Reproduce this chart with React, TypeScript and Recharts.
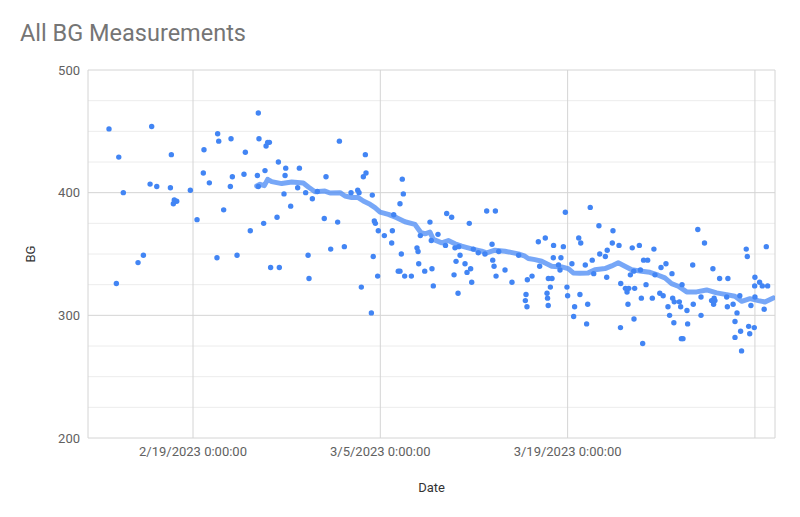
import React from 'react';
import { ScatterChart, Scatter, XAxis, YAxis, CartesianGrid, Label } from 'recharts';

// x values are days since 2/19/2023 0:00:00
const dateTickValues = [0, 14, 28, 42];
const dateTickLabels = ['2/19/2023 0:00:00', '3/5/2023 0:00:00', '3/19/2023 0:00:00', ''];
const bgTicks = [200, 300, 400, 500];
const bgMinorTicks = [225, 250, 275, 325, 350, 375, 425, 450, 475];

const measurements: [number, number][] = [
  [-6.28, 452], [-3.09, 454], [-5.55, 429], [-1.62, 431], [0.82, 435], [0.77, 416], [1.22, 408], [-3.21, 407],
  [-2.71, 405], [-1.69, 404], [-0.2, 402], [-5.21, 400], [-1.4, 394], [-1.22, 393], [-1.47, 391], [0.3, 378],
  [-3.71, 349], [-4.11, 343], [-5.73, 326],
  [4.88, 465], [1.84, 448], [1.92, 442], [2.84, 444], [4.93, 444], [5.58, 441], [5.71, 441], [5.46, 438],
  [3.91, 433], [6.38, 425], [6.93, 420], [7.95, 420], [5.38, 418], [3.81, 415], [2.94, 413], [4.81, 414],
  [6.88, 414], [2.79, 405], [4.88, 405], [7.82, 404], [8.42, 400], [6.8, 399], [8.92, 395], [7.3, 389],
  [2.29, 386], [6.28, 380], [5.28, 375], [4.28, 369], [1.79, 347], [3.29, 349], [8.6, 349], [5.8, 339],
  [6.45, 339], [8.67, 330],
  [10.94, 442], [12.88, 431], [9.94, 413], [12.73, 413], [12.93, 416], [15.64, 411], [15.72, 399], [9.29, 401],
  [11.81, 400], [12.31, 402], [12.41, 400], [13.4, 398], [15.47, 391], [9.81, 379], [10.81, 376], [15.0, 382],
  [13.55, 377], [13.63, 375], [13.85, 369], [14.9, 369], [14.3, 365], [17.71, 376], [16.99, 365], [10.29, 354],
  [11.31, 356], [13.47, 348], [14.85, 359], [15.57, 350], [16.74, 355], [16.82, 352], [16.87, 342], [17.32, 336],
  [15.34, 336], [15.47, 336], [15.82, 332], [16.32, 332], [13.8, 332], [12.58, 323], [13.33, 302],
  [18.96, 383], [19.33, 380], [21.95, 385], [22.6, 385], [20.65, 375], [18.31, 366], [17.81, 361], [18.87, 357],
  [19.58, 355], [19.86, 356], [22.35, 358], [25.81, 360], [20.95, 354], [21.32, 351], [21.82, 350], [22.85, 352],
  [24.34, 349], [19.96, 349], [19.66, 344], [20.33, 342], [22.4, 345], [22.5, 340], [20.75, 338], [20.48, 335],
  [17.86, 338], [23.32, 337], [19.51, 333], [22.65, 332], [20.83, 327], [17.96, 324], [23.84, 327], [25.34, 332],
  [24.99, 329], [25.91, 340], [19.81, 318], [24.89, 317], [24.84, 312], [24.96, 307],
  [27.83, 384], [29.69, 388], [26.33, 363], [26.95, 357], [27.68, 356], [28.83, 363], [28.98, 359], [30.34, 373],
  [31.39, 369], [31.34, 359], [31.84, 357], [32.83, 355], [33.36, 357], [30.96, 353], [30.4, 350], [30.82, 348],
  [29.84, 345], [33.68, 345], [33.98, 345], [26.93, 347], [27.5, 347], [27.32, 341], [27.43, 337], [28.32, 342],
  [29.32, 341], [29.95, 334], [30.92, 331], [32.69, 333], [32.94, 336], [33.44, 337], [33.86, 325], [26.56, 330],
  [26.83, 330], [26.71, 323], [26.46, 318], [26.5, 314], [26.55, 308], [27.95, 323], [28.0, 316], [31.97, 326],
  [32.32, 322], [32.44, 319], [32.57, 322], [33.01, 322], [28.92, 317], [28.52, 307], [29.5, 309], [32.51, 309],
  [33.51, 314], [28.45, 299], [32.96, 297], [29.42, 293], [31.95, 290], [33.61, 277],
  [37.73, 370], [38.23, 359], [34.45, 354], [41.35, 354], [41.43, 348], [42.85, 356], [35.35, 342], [34.98, 339],
  [37.35, 341], [38.86, 338], [35.8, 334], [34.53, 333], [39.36, 330], [39.98, 330], [42.0, 331], [42.35, 327],
  [42.55, 324], [42.95, 324], [41.98, 324], [36.55, 325], [34.33, 314], [34.89, 318], [35.14, 316], [35.85, 314],
  [35.97, 311], [36.35, 311], [36.45, 307], [35.5, 307], [37.97, 315], [38.76, 312], [38.95, 314], [39.01, 312],
  [38.91, 309], [37.39, 309], [36.92, 304], [39.89, 315], [39.94, 307], [40.37, 309], [40.87, 316], [42.0, 315],
  [41.7, 308], [42.69, 305], [35.62, 300], [37.97, 300], [40.66, 302], [35.94, 294], [36.97, 293], [40.51, 295],
  [41.53, 291], [41.95, 290], [41.61, 285], [40.93, 287], [40.51, 282], [36.5, 281], [36.62, 281], [41.0, 271],
];

const movingAverage: [number, number][] = [
  [4.76, 405.4], [5.01, 406.8], [5.33, 405.7], [5.58, 410.9], [5.88, 409.0], [6.63, 407.4], [7.38, 408.7],
  [8.24, 407.9], [8.62, 404.6], [9.12, 400.8], [9.86, 401.3], [10.24, 399.7], [10.99, 400.0], [11.36, 397.3],
  [11.86, 396.0], [12.35, 396.0], [12.73, 393.2], [13.23, 390.5], [13.6, 387.8], [13.98, 384.2], [14.6, 382.3],
  [15.22, 379.6], [15.84, 376.3], [16.59, 374.1], [17.04, 367.3], [17.34, 366.5], [17.71, 367.8], [17.96, 361.9],
  [18.59, 359.1], [19.08, 361.0], [19.58, 358.3], [20.08, 356.4], [20.83, 354.2], [21.58, 352.3], [21.95, 351.0],
  [22.57, 353.1], [23.32, 352.3], [24.31, 350.1], [24.81, 348.2], [25.06, 346.3], [25.56, 345.4], [26.06, 344.1],
  [26.81, 340.0], [27.55, 339.5], [28.05, 338.1], [28.42, 334.6], [28.92, 334.3], [29.54, 334.6], [30.04, 337.1],
  [30.79, 338.1], [31.29, 340.3], [31.78, 342.8], [32.28, 340.0], [32.79, 337.1], [33.53, 336.0], [34.15, 335.1],
  [34.77, 332.7], [35.27, 330.5], [35.77, 325.9], [36.27, 323.7], [36.9, 319.1], [37.64, 319.1], [38.39, 320.7],
  [39.14, 318.3], [39.88, 316.9], [40.5, 315.5], [41.01, 311.4], [41.63, 313.6], [42.25, 312.0], [42.75, 310.9],
  [43.37, 314.2],
];

const pointData = measurements.map(([day, bg]) => ({ day, bg }));
const trendData = movingAverage.map(([day, bg]) => ({ day, bg }));

const BLUE = '#4285F4';

const Dot = (props: any) => {
  if (props.cx == null || props.cy == null) return <g />;
  return <circle cx={props.cx} cy={props.cy} r={2.7} fill={BLUE} />;
};
const NoDot = () => <g />;

const BgLabel = (props: any) => {
  const vb = props.viewBox || {};
  const cy = (vb.y ?? 70) + (vb.height ?? 368) / 2;
  return (
    <text x={30} y={cy} transform={`rotate(-90 30 ${cy})`} textAnchor="middle" dominantBaseline="central"
      fill="#333" fontSize={13} fontFamily="Roboto, sans-serif">BG</text>
  );
};

export default function App() {
  return (
    <div style={{ position: 'absolute', left: 0, top: 0, width: 800, height: 517, background: '#fff', fontFamily: 'Roboto, sans-serif' }}>
      <div style={{ position: 'absolute', left: 20, top: 22, fontSize: 23.5, lineHeight: '23.5px', color: '#757575', whiteSpace: 'nowrap' }}>
        All BG Measurements
      </div>
      <ScatterChart width={800} height={517} margin={{ top: 70, right: 25, bottom: 49, left: 0 }}>
        <CartesianGrid horizontalValues={bgMinorTicks} vertical={false} stroke="#ececec" />
        <CartesianGrid stroke="#d4d4d4" />
        <XAxis
          type="number"
          dataKey="day"
          domain={[-7.85, 43.5]}
          ticks={dateTickValues}
          interval={0}
          allowDataOverflow
          tickFormatter={(v: number) => dateTickLabels[dateTickValues.indexOf(v)] ?? ''}
          axisLine={false}
          tickLine={false}
          tickSize={0}
          tickMargin={9}
          height={30}
          tick={{ fill: '#616161', fontSize: 13, fontFamily: 'Roboto, sans-serif' }}
        >
          <Label value="Date" position="bottom" offset={15} fill="#333" fontSize={13} fontFamily="Roboto, sans-serif" />
        </XAxis>
        <YAxis
          type="number"
          dataKey="bg"
          domain={[200, 500]}
          ticks={bgTicks}
          interval={0}
          axisLine={false}
          tickLine={false}
          tickSize={0}
          tickMargin={8}
          width={88}
          tick={{ fill: '#616161', fontSize: 13, fontFamily: 'Roboto, sans-serif' }}
        >
          <Label content={<BgLabel />} />
        </YAxis>
        <Scatter data={pointData} fill={BLUE} shape={<Dot />} isAnimationActive={false} />
        <Scatter
          data={trendData}
          fill={BLUE}
          shape={<NoDot />}
          line={{ stroke: BLUE, strokeWidth: 5, strokeOpacity: 0.72, strokeLinejoin: 'round', strokeLinecap: 'round' }}
          isAnimationActive={false}
        />
      </ScatterChart>
    </div>
  );
}
